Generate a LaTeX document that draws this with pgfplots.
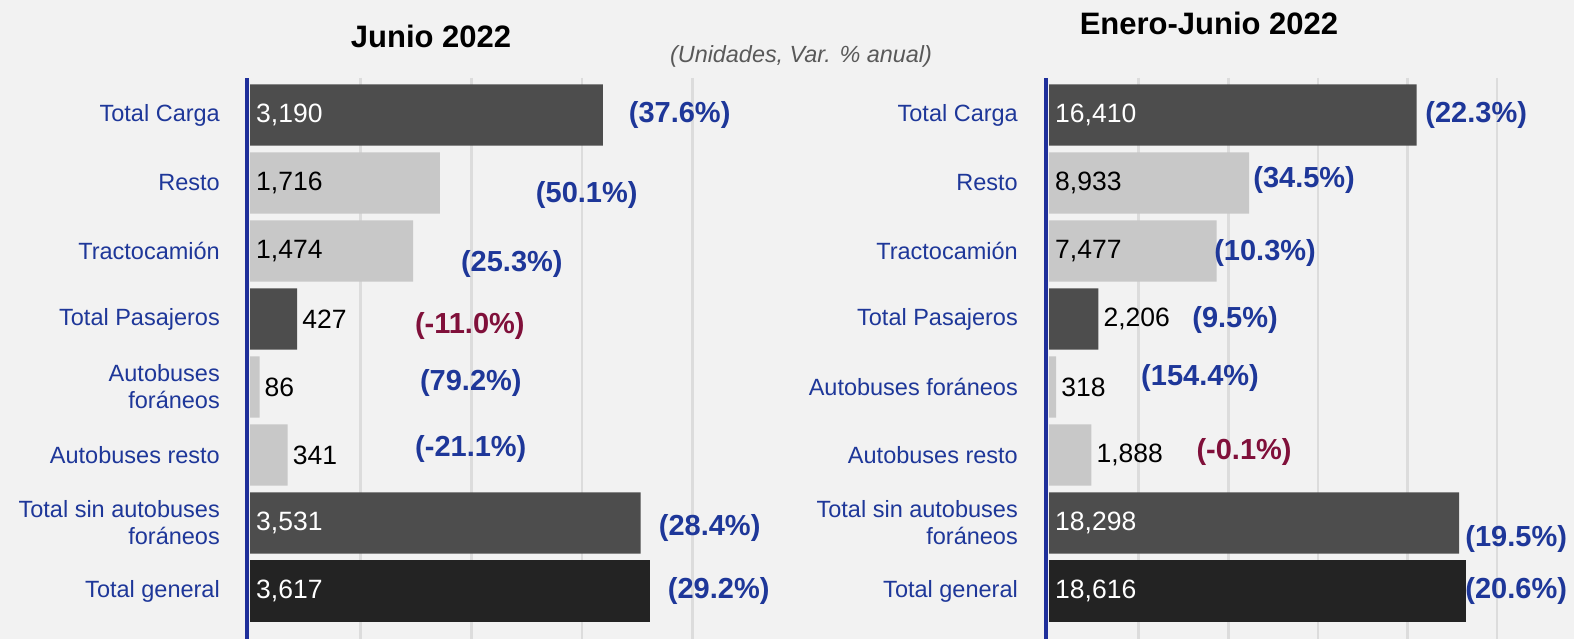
\documentclass[border=0pt]{standalone}
\usepackage{fontspec}
\setmainfont{Liberation Sans}
\usepackage{pgfplots}
\pgfplotsset{compat=1.18}

\definecolor{bg}{HTML}{F2F2F2}
\definecolor{gridgray}{HTML}{DCDCDC}
\definecolor{darkbar}{HTML}{4D4D4D}
\definecolor{lightbar}{HTML}{C8C8C8}
\definecolor{blackbar}{HTML}{232323}
\definecolor{labelblue}{HTML}{1E3799}
\definecolor{axisblue}{HTML}{1F2F9A}
\definecolor{negred}{HTML}{80103A}
\definecolor{subgray}{HTML}{595959}

\newcommand\lab{\fontsize{23.5bp}{27bp}\selectfont}
\newcommand\val{\fontsize{26.5bp}{30bp}\selectfont}
\newcommand\pct{\fontsize{29bp}{33bp}\selectfont\bfseries}

\pgfplotsset{
  panel/.style={
    scale only axis, xbar, bar shift=0pt, bar width=0.9,
    y dir=reverse, ymin=-0.544, ymax=7.706, height=561bp,
    xmin=0, enlargelimits=false, axis line style={draw=none},
    scaled x ticks=false,
    major tick length=0, xticklabel=\empty, xticklabel pos=upper,
    xticklabel style={inner sep=0pt}, xmajorgrids,
    grid style={gridgray, line width=2.5bp},
    ytick={0,...,7},
    yticklabel style={align=right, text=labelblue, font=\lab, inner sep=0pt},
    clip=false, every axis plot/.append style={draw=none},
  },
}
\tikzset{
  inl/.style={anchor=west, font=\val, inner sep=0pt, xshift=6bp},
  outl/.style={anchor=west, font=\val, inner sep=0pt, xshift=5bp},
  pctpos/.style={font=\pct, text=labelblue},
  pctneg/.style={font=\pct, text=negred},
}

\begin{document}
\begin{tikzpicture}
\path[use as bounding box, fill=bg] (0,0) rectangle (1574bp,639bp);

\node[font=\fontsize{31bp}{36bp}\selectfont\bfseries] at (431bp,603bp) {Junio 2022};
\node[font=\fontsize{31bp}{36bp}\selectfont\bfseries] at (1209bp,616bp) {Enero-Junio 2022};
\node[font=\fontsize{23.4bp}{27bp}\selectfont\itshape, text=subgray] at (801bp,583bp) {(Unidades, Var. \% anual)};

% Junio 2022
\begin{axis}[panel, at={(250bp,0bp)}, anchor=south west, width=531bp, xmax=4800,
  xtick={1000,2000,3000,4000}, yticklabel style={xshift=-30bp},
  yticklabels={{Total Carga},{Resto},{Tractocamión},{Total Pasajeros},{Autobuses\\foráneos},{Autobuses resto},{Total sin autobuses\\foráneos},{Total general}}]
\addplot[fill=darkbar] coordinates {(3190,0) (427,3) (3531,6)};
\addplot[fill=lightbar] coordinates {(1716,1) (1474,2) (86,4) (341,5)};
\addplot[fill=blackbar] coordinates {(3617,7)};
\draw[axisblue, line width=3.5bp] ([xshift=-3bp]rel axis cs:0,0) -- ([xshift=-3bp]rel axis cs:0,1);
\node[inl, text=white] at (axis cs:0,0) {3,190};
\node[inl] at (axis cs:0,1) {1,716};
\node[inl] at (axis cs:0,2) {1,474};
\node[outl] at (axis cs:427,3) {427};
\node[outl] at (axis cs:86,4) {86};
\node[outl] at (axis cs:341,5) {341};
\node[inl, text=white] at (axis cs:0,6) {3,531};
\node[inl, text=white] at (axis cs:0,7) {3,617};
\node[pctpos] at (axis cs:3884,0.0) {(37.6\%)};
\node[pctpos] at (axis cs:3044,1.18) {(50.1\%)};
\node[pctpos] at (axis cs:2367,2.19) {(25.3\%)};
\node[pctneg] at (axis cs:1987,3.10) {(-11.0\%)};
\node[pctpos] at (axis cs:1996,3.94) {(79.2\%)};
\node[pctpos] at (axis cs:1996,4.91) {(-21.1\%)};
\node[pctpos] at (axis cs:4155,6.07) {(28.4\%)};
\node[pctpos] at (axis cs:4237,7.0) {(29.2\%)};
\end{axis}

% Enero-Junio 2022
\begin{axis}[panel, at={(1049bp,0bp)}, anchor=south west, width=493bp, xmax=22000,
  xtick={4000,8000,12000,16000,20000}, yticklabel style={xshift=-31bp},
  yticklabels={{Total Carga},{Resto},{Tractocamión},{Total Pasajeros},{Autobuses foráneos},{Autobuses resto},{Total sin autobuses\\foráneos},{Total general}}]
\addplot[fill=darkbar] coordinates {(16410,0) (2206,3) (18298,6)};
\addplot[fill=lightbar] coordinates {(8933,1) (7477,2) (318,4) (1888,5)};
\addplot[fill=blackbar] coordinates {(18616,7)};
\draw[axisblue, line width=3.5bp] ([xshift=-3bp]rel axis cs:0,0) -- ([xshift=-3bp]rel axis cs:0,1);
\node[inl, text=white] at (axis cs:0,0) {16,410};
\node[inl] at (axis cs:0,1) {8,933};
\node[inl] at (axis cs:0,2) {7,477};
\node[outl] at (axis cs:2206,3) {2,206};
\node[outl] at (axis cs:318,4) {318};
\node[outl] at (axis cs:1888,5) {1,888};
\node[inl, text=white] at (axis cs:0,6) {18,298};
\node[inl, text=white] at (axis cs:0,7) {18,616};
\node[pctpos] at (axis cs:19063,0.0) {(22.3\%)};
\node[pctpos] at (axis cs:11384,0.96) {(34.5\%)};
\node[pctpos] at (axis cs:9643,2.03) {(10.3\%)};
\node[pctpos] at (axis cs:8304,3.01) {(9.5\%)};
\node[pctpos] at (axis cs:6741,3.87) {(154.4\%)};
\node[pctneg] at (axis cs:8705,4.96) {(-0.1\%)};
\node[pctpos] at (axis cs:20848,6.24) {(19.5\%)};
\node[pctpos] at (axis cs:20848,7.0) {(20.6\%)};
\end{axis}
\end{tikzpicture}
\end{document}
